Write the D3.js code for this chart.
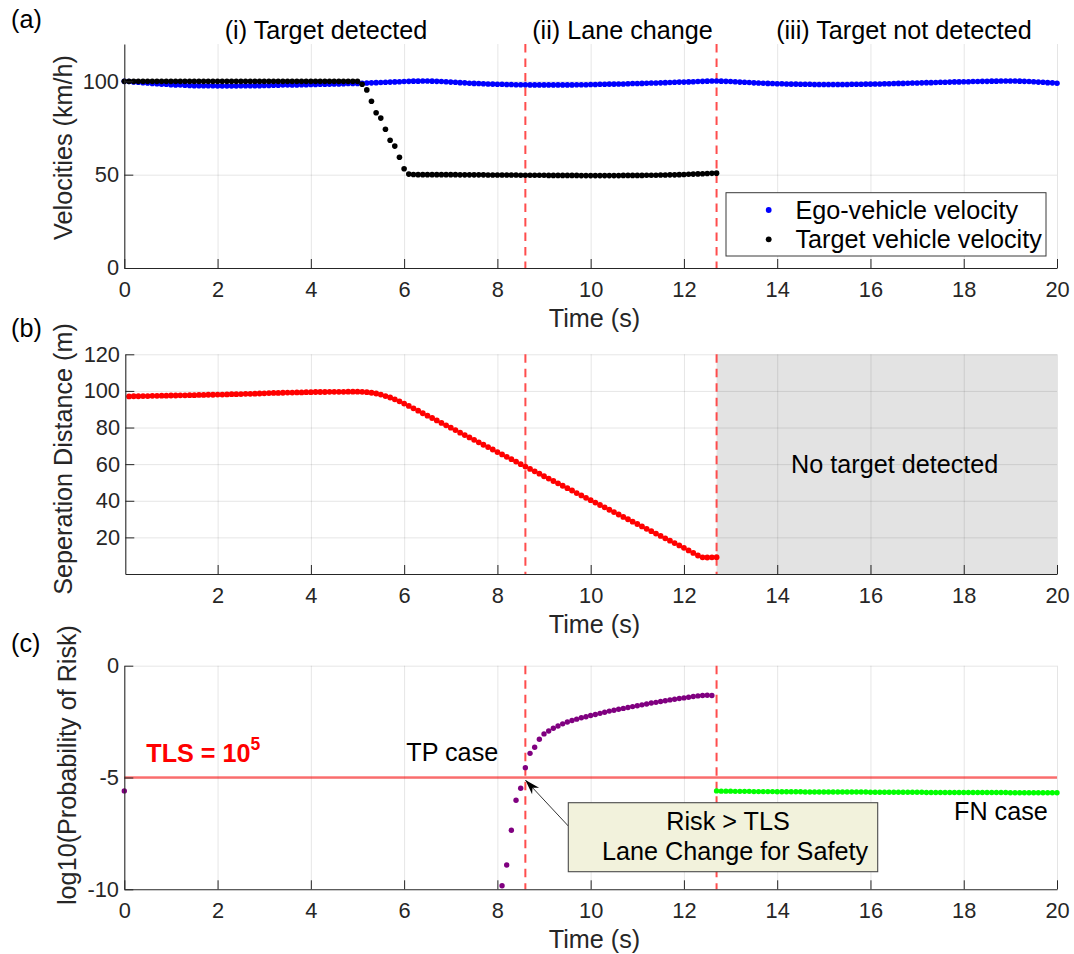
<!DOCTYPE html>
<html>
<head>
<meta charset="utf-8">
<script src="https://cdn.jsdelivr.net/npm/d3@7"></script>
<style>
  body { margin: 0; background: #ffffff; }
  text { font-family: "Liberation Sans", Arial, Helvetica, sans-serif; }
</style>
</head>
<body>
<svg id="fig" width="1074" height="954"></svg>
<script>
// ---------------- data (sample period 0.1 s) ----------------
const sampleStep = 0.1;

// (a) ego-vehicle velocity, km/h, t = 0 ... 20 s
const egoVelocity = [
  100.0, 99.9, 99.7, 99.5, 99.3, 99.1, 98.9, 98.7, 98.5, 98.4,
  98.2, 98.1, 98.0, 97.9, 97.8, 97.7, 97.7, 97.6, 97.6, 97.6,
  97.5, 97.5, 97.5, 97.5, 97.5, 97.6, 97.6, 97.6, 97.7, 97.7,
  97.8, 97.8, 97.9, 97.9, 98.0, 98.0, 98.1, 98.1, 98.2, 98.2,
  98.3, 98.3, 98.4, 98.4, 98.5, 98.6, 98.6, 98.7, 98.8, 98.8,
  98.9, 99.0, 99.1, 99.2, 99.3, 99.4, 99.5, 99.6, 99.7, 99.8,
  99.9, 100.0, 100.1, 100.1, 100.2, 100.2, 100.1, 100.0, 99.9, 99.8,
  99.6, 99.5, 99.3, 99.2, 99.0, 98.9, 98.8, 98.7, 98.6, 98.5,
  98.4, 98.4, 98.3, 98.3, 98.2, 98.2, 98.2, 98.1, 98.1, 98.1,
  98.1, 98.1, 98.1, 98.1, 98.1, 98.1, 98.1, 98.2, 98.2, 98.2,
  98.3, 98.3, 98.4, 98.4, 98.5, 98.5, 98.6, 98.6, 98.7, 98.8,
  98.8, 98.9, 99.0, 99.1, 99.1, 99.2, 99.3, 99.4, 99.5, 99.6,
  99.6, 99.7, 99.8, 99.9, 100.0, 100.1, 100.2, 100.2, 100.1, 100.0,
  99.9, 99.8, 99.6, 99.5, 99.4, 99.2, 99.1, 99.0, 98.9, 98.8,
  98.7, 98.7, 98.6, 98.5, 98.5, 98.4, 98.4, 98.4, 98.3, 98.3,
  98.3, 98.3, 98.3, 98.3, 98.3, 98.3, 98.4, 98.4, 98.4, 98.5,
  98.5, 98.6, 98.6, 98.7, 98.7, 98.8, 98.9, 98.9, 99.0, 99.1,
  99.1, 99.2, 99.3, 99.3, 99.4, 99.5, 99.5, 99.6, 99.7, 99.7,
  99.8, 99.8, 99.9, 99.9, 100.0, 100.0, 100.1, 100.1, 100.2, 100.2,
  100.2, 100.2, 100.1, 100.0, 99.9, 99.8, 99.6, 99.5, 99.3, 99.2,
  99.0
];

// (a) target vehicle velocity, km/h, t = 0 ... 12.7 s
const targetVelocity = [
  100, 100, 100, 100, 100, 100, 100, 100, 100, 100,
  100, 100, 100, 100, 100, 100, 100, 100, 100, 100,
  100, 100, 100, 100, 100, 100, 100, 100, 100, 100,
  100, 100, 100, 100, 100, 100, 100, 100, 100, 100,
  100, 100, 100, 100, 100, 100, 100, 100, 100, 100,
  100,
  98.4, 95.4, 89.3, 83.2, 80.3, 74.3, 68.4, 65.3, 59.3, 53.2, 50.3,
  50.1, 50.0, 50.0, 50.0, 50.0, 50.0, 50.0, 50.0,
  50.0, 50.0, 49.9, 49.9, 49.9, 49.9, 49.9, 49.9, 49.8, 49.8,
  49.8, 49.8, 49.8, 49.8, 49.8, 49.7, 49.7, 49.7, 49.7, 49.7,
  49.7, 49.6, 49.6, 49.6, 49.6, 49.6, 49.6, 49.6, 49.5, 49.5,
  49.5, 49.5, 49.5, 49.5, 49.5, 49.5, 49.5, 49.6, 49.6, 49.6,
  49.6, 49.6, 49.7, 49.7, 49.7, 49.8, 49.8, 49.9, 49.9, 50.0,
  50.1, 50.2, 50.3, 50.4, 50.5, 50.6, 50.7, 50.8
];

// (b) separation distance, m, t = 0.1 ... 12.7 s
const separationStart = 0.1;
const separation = [
  97.0, 97.1, 97.1, 97.2, 97.2, 97.3, 97.3, 97.4, 97.4, 97.5,
  97.5, 97.6, 97.6, 97.7, 97.7, 97.8, 97.8, 97.9, 97.9, 98.0,
  98.0, 98.1, 98.2, 98.2, 98.3, 98.4, 98.4, 98.5, 98.6, 98.7,
  98.8, 98.9, 98.9, 99.0, 99.1, 99.1, 99.2, 99.2, 99.3, 99.3,
  99.4, 99.4, 99.4, 99.5, 99.5, 99.5, 99.5, 99.6, 99.6, 99.6,
  99.5, 99.3, 99.0, 98.6, 98.0, 97.2, 96.4, 95.4, 94.3, 93.1,
  91.8, 90.5, 89.2, 87.8, 86.5, 85.2, 83.9, 82.5, 81.2, 79.9,
  78.6, 77.2, 75.9, 74.6, 73.3, 71.9, 70.6, 69.3, 68.0, 66.6,
  65.3, 64.0, 62.7, 61.4, 60.0, 58.7, 57.4, 56.1, 54.8, 53.4,
  52.1, 50.8, 49.5, 48.2, 46.9, 45.6, 44.2, 42.9, 41.6, 40.3,
  39.0, 37.7, 36.4, 35.1, 33.8, 32.5, 31.2, 29.9, 28.6, 27.3,
  26.0, 24.7, 23.4, 22.1, 20.8, 19.5, 18.2, 16.9, 15.6, 14.3,
  12.9, 11.5, 10.1, 9.1, 9.0, 9.1, 9.2
];

// (c) log10 risk probability, true-positive case
const riskInitial = { t: 0, v: -5.6 };
const tpRiskStart = 8.1;
const tpRisk = [
  -9.84, -8.91, -7.36, -6.02, -5.48, -4.56, -3.92, -3.65, -3.29, -3.05,
  -2.92, -2.80, -2.70, -2.60, -2.52, -2.45, -2.39, -2.33, -2.28, -2.23,
  -2.18, -2.13, -2.08, -2.03, -1.99, -1.95, -1.91, -1.87, -1.83, -1.79,
  -1.75, -1.71, -1.67, -1.64, -1.60, -1.57, -1.53, -1.50, -1.47, -1.44,
  -1.41, -1.38, -1.35, -1.33, -1.32, -1.33
];

// (c) log10 risk probability, false-negative case, t = 12.7 ... 20 s
const fnRiskStart = 12.7;
const fnRisk = [
  -5.60, -5.61, -5.61, -5.61, -5.62, -5.62, -5.62, -5.62, -5.63, -5.63,
  -5.63, -5.63, -5.63, -5.64, -5.64, -5.64, -5.64, -5.64, -5.64, -5.65,
  -5.65, -5.65, -5.65, -5.65, -5.65, -5.65, -5.65, -5.65, -5.65, -5.65,
  -5.65, -5.65, -5.65, -5.66, -5.66, -5.66, -5.66, -5.66, -5.66, -5.66,
  -5.66, -5.66, -5.66, -5.66, -5.66, -5.67, -5.67, -5.67, -5.67, -5.67,
  -5.67, -5.67, -5.67, -5.67, -5.67, -5.67, -5.67, -5.67, -5.67, -5.67,
  -5.67, -5.67, -5.67, -5.68, -5.68, -5.68, -5.68, -5.68, -5.68, -5.68,
  -5.68, -5.68, -5.68, -5.68
];

// phase boundaries and threshold
const laneChangeTime = 8.6;
const lossOfTargetTime = 12.7;
const tlsLog = -5;

// ticks
const timeTicks = [0, 2, 4, 6, 8, 10, 12, 14, 16, 18, 20];
const timeTicksNoZero = [2, 4, 6, 8, 10, 12, 14, 16, 18, 20];
const velocityTicks = [0, 50, 100];
const distanceTicks = [20, 40, 60, 80, 100, 120];
const riskTicks = [-10, -5, 0];

// ---------------- drawing ----------------
const svg = d3.select("#fig");
const INK = "#262626";
const TICK_FONT = 21.8;
const LABEL_FONT = 25.2;
const xLeft = 124.3, xRight = 1057;

const toPoints = (t0, values) => values.map((v, i) => ({ t: +(t0 + i * sampleStep).toFixed(2), v }));

function makePanel(cfg) {
  const g = svg.append("g");
  const x = d3.scaleLinear().domain(cfg.xDomain).range([cfg.xStart, xRight]);
  const y = d3.scaleLinear().domain(cfg.yDomain).range([cfg.bottom, cfg.top]);
  const h = cfg.bottom - cfg.top;
  const layers = {
    back: g.append("g"),
    grid: g.append("g"),
    ref: g.append("g"),
    data: g.append("g"),
    axes: g.append("g"),
    notes: g.append("g")
  };
  // grid
  layers.grid.append("g")
    .attr("transform", `translate(0,${cfg.bottom})`)
    .call(d3.axisBottom(x).tickValues(cfg.xTicks.filter(t => t > cfg.xDomain[0])).tickSize(-h).tickFormat(""))
    .call(s => s.select(".domain").remove())
    .selectAll("line").attr("stroke", "#000").attr("stroke-opacity", 0.1);
  layers.grid.append("g")
    .attr("transform", `translate(${cfg.xStart},0)`)
    .call(d3.axisLeft(y).tickValues(cfg.yTicks.filter(t => t > cfg.yDomain[0])).tickSize(-(xRight - cfg.xStart)).tickFormat(""))
    .call(s => s.select(".domain").remove())
    .selectAll("line").attr("stroke", "#000").attr("stroke-opacity", 0.1);

  cfg.drawAxes = () => {
    const bx = layers.axes.append("g")
      .attr("transform", `translate(0,${cfg.bottom})`)
      .call(d3.axisBottom(x).tickValues(cfg.xTicks).tickSizeInner(-9).tickSizeOuter(0)
        .tickPadding(13.2).tickFormat(d => String(d)));
    const ly = layers.axes.append("g")
      .attr("transform", `translate(${cfg.xStart},0)`)
      .call(d3.axisLeft(y).tickValues(cfg.yTicks).tickSizeInner(-9).tickSizeOuter(0)
        .tickPadding(5.3).tickFormat(d => String(d)));
    [bx, ly].forEach(a => {
      a.attr("color", INK).attr("font-size", TICK_FONT)
        .attr("font-family", '"Liberation Sans", Arial, Helvetica, sans-serif');
      a.select(".domain").attr("stroke-width", 1.1);
    });
  };
  return { x, y, layers, cfg };
}

function dashedMarkers(p) {
  [laneChangeTime, lossOfTargetTime].forEach(t => {
    p.layers.ref.append("line")
      .attr("x1", p.x(t)).attr("x2", p.x(t))
      .attr("y1", p.cfg.top).attr("y2", p.cfg.bottom)
      .attr("stroke", "#ff3a3a").attr("stroke-opacity", 0.9)
      .attr("stroke-width", 2).attr("stroke-dasharray", "8.5,6");
  });
}

function dots(p, pts, color, r) {
  p.layers.data.selectAll(null).data(pts).enter().append("circle")
    .attr("cx", d => p.x(d.t)).attr("cy", d => p.y(d.v))
    .attr("r", r).attr("fill", color);
}

function xLabel(p, baseline) {
  p.layers.notes.append("text").attr("x", 594.5).attr("y", baseline)
    .attr("text-anchor", "middle").attr("font-size", LABEL_FONT).attr("fill", INK)
    .text("Time (s)");
}
function yLabel(p, text, bx, cy) {
  p.layers.notes.append("text")
    .attr("transform", `translate(${bx},${cy}) rotate(-90)`)
    .attr("text-anchor", "middle").attr("font-size", LABEL_FONT).attr("fill", INK)
    .text(text);
}
function panelTag(text, x, baseline) {
  svg.append("text").attr("x", x).attr("y", baseline)
    .attr("font-size", LABEL_FONT).attr("fill", "#000").text(text);
}

// ---- (a) velocities ----
const pa = makePanel({ top: 44, bottom: 268, xStart: xLeft, xDomain: [0, 20], yDomain: [0, 120],
  xTicks: timeTicks, yTicks: velocityTicks });
dashedMarkers(pa);
dots(pa, toPoints(0, egoVelocity), "#0000ff", 2.8);
dots(pa, toPoints(0, targetVelocity), "#000000", 2.8);
pa.cfg.drawAxes();
xLabel(pa, 326.5);
yLabel(pa, "Velocities (km/h)", 71.5, 147.5);
[["(i) Target detected", 326], ["(ii) Lane change", 622.5], ["(iii) Target not detected", 904]]
  .forEach(([txt, cx]) => {
    pa.layers.notes.append("text").attr("x", cx).attr("y", 38.5)
      .attr("text-anchor", "middle").attr("font-size", LABEL_FONT).attr("fill", "#000").text(txt);
  });

// legend
const legend = pa.layers.notes.append("g");
legend.append("rect").attr("x", 726).attr("y", 192.7).attr("width", 320).attr("height", 63.3)
  .attr("fill", "#ffffff").attr("stroke", "#3a3a3a").attr("stroke-width", 1);
[["Ego-vehicle velocity", "#0000ff", 210], ["Target vehicle velocity", "#000000", 239.3]]
  .forEach(([txt, col, cy]) => {
    legend.append("circle").attr("cx", 768.7).attr("cy", cy).attr("r", 2.9).attr("fill", col);
    legend.append("text").attr("x", 795.4).attr("y", cy).attr("dy", "0.35em")
      .attr("font-size", LABEL_FONT).attr("fill", "#000").text(txt);
  });

// ---- (b) separation distance ----
const pb = makePanel({ top: 354.3, bottom: 574, xStart: 125.3, xDomain: [0.02, 20], yDomain: [0, 120],
  xTicks: timeTicksNoZero, yTicks: distanceTicks });
pb.layers.back.append("rect")
  .attr("x", pb.x(lossOfTargetTime)).attr("y", pb.cfg.top)
  .attr("width", pb.x(20) - pb.x(lossOfTargetTime)).attr("height", pb.cfg.bottom - pb.cfg.top)
  .attr("fill", "#e3e3e3");
dashedMarkers(pb);
dots(pb, toPoints(separationStart, separation), "#ff0000", 2.9);
pb.cfg.drawAxes();
xLabel(pb, 632.5);
yLabel(pb, "Seperation Distance (m)", 71.5, 459);
pb.layers.notes.append("text").attr("x", 894.7).attr("y", 472.7)
  .attr("text-anchor", "middle").attr("font-size", LABEL_FONT).attr("fill", "#000")
  .text("No target detected");

// ---- (c) risk ----
const pc = makePanel({ top: 665.7, bottom: 889.3, xStart: xLeft, xDomain: [0, 20], yDomain: [-10, 0],
  xTicks: timeTicks, yTicks: riskTicks });
pc.layers.ref.append("line")
  .attr("x1", pc.x(0)).attr("x2", pc.x(20)).attr("y1", pc.y(tlsLog)).attr("y2", pc.y(tlsLog))
  .attr("stroke", "#ff0000").attr("stroke-opacity", 0.55).attr("stroke-width", 2.3);
dashedMarkers(pc);
dots(pc, [riskInitial].concat(toPoints(tpRiskStart, tpRisk)), "#800080", 2.7);
dots(pc, toPoints(fnRiskStart, fnRisk), "#00ff00", 2.7);
pc.cfg.drawAxes();
xLabel(pc, 948);
yLabel(pc, "log10(Probability of Risk)", 76, 765);

const tls = pc.layers.notes.append("text").attr("x", 146.3).attr("y", 761.7)
  .attr("font-size", LABEL_FONT).attr("font-weight", "bold").attr("fill", "#ff0000");
tls.append("tspan").text("TLS = 10");
tls.append("tspan").attr("dy", -11.5).attr("font-size", 17.5).text("5");

pc.layers.notes.append("text").attr("x", 406.3).attr("y", 760.7)
  .attr("font-size", LABEL_FONT).attr("fill", "#000").text("TP case");
pc.layers.notes.append("text").attr("x", 954).attr("y", 820)
  .attr("font-size", LABEL_FONT).attr("fill", "#000").text("FN case");

// annotation box with arrow to the threshold crossing
const box = { x: 568.3, y: 802.7, w: 309.4, h: 69 };
const tip = { x: pc.x(laneChangeTime), y: pc.y(tlsLog) + 2.5 };
const tail = { x: box.x, y: 826 };
pc.layers.notes.append("line").attr("x1", tail.x).attr("y1", tail.y).attr("x2", tip.x).attr("y2", tip.y)
  .attr("stroke", "#000").attr("stroke-width", 0.8);
{
  const dx = tip.x - tail.x, dy = tip.y - tail.y, L = Math.hypot(dx, dy);
  const ux = dx / L, uy = dy / L, nx = -uy, ny = ux;
  const len = 15, half = 4.8, notch = 10.5;
  const p1 = [tip.x - ux * len + nx * half, tip.y - uy * len + ny * half];
  const p2 = [tip.x - ux * notch, tip.y - uy * notch];
  const p3 = [tip.x - ux * len - nx * half, tip.y - uy * len - ny * half];
  pc.layers.notes.append("path")
    .attr("d", `M${tip.x},${tip.y}L${p1}L${p2}L${p3}Z`).attr("fill", "#000");
}
pc.layers.notes.append("rect").attr("x", box.x).attr("y", box.y).attr("width", box.w).attr("height", box.h)
  .attr("fill", "#f2f2dc").attr("stroke", "#4a4a4a").attr("stroke-width", 1.1);
pc.layers.notes.append("text").attr("x", 728).attr("y", 830)
  .attr("text-anchor", "middle").attr("font-size", LABEL_FONT).attr("fill", "#000").text("Risk > TLS");
pc.layers.notes.append("text").attr("x", 735).attr("y", 860)
  .attr("text-anchor", "middle").attr("font-size", LABEL_FONT).attr("fill", "#000").text("Lane Change for Safety");

// panel tags
panelTag("(a)", 11, 27.5);
panelTag("(b)", 11, 337);
panelTag("(c)", 11, 652);
</script>
</body>
</html>
